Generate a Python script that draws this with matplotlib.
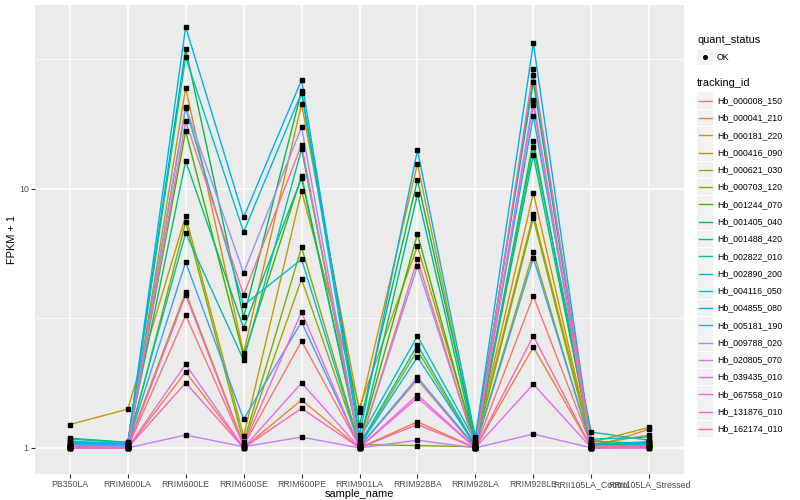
import numpy as np
import matplotlib
matplotlib.use("Agg")
import matplotlib.pyplot as plt
from matplotlib.lines import Line2D
from matplotlib.patches import Rectangle

plt.rcParams['font.family'] = ['Liberation Sans', 'DejaVu Sans']

samples = ["PB350LA", "RRIM600LA", "RRIM600LE", "RRIM600SE", "RRIM600PE",
           "RRIM901LA", "RRIM928BA", "RRIM928LA", "RRIM928LE",
           "RRII105LA_Control", "RRII105LA_Stressed"]

tracking_ids = ["Hb_000008_150", "Hb_000041_210", "Hb_000181_220", "Hb_000416_090",
                "Hb_000621_030", "Hb_000703_120", "Hb_001244_070", "Hb_001405_040",
                "Hb_001488_420", "Hb_002822_010", "Hb_002890_200", "Hb_004116_050",
                "Hb_004855_080", "Hb_005181_190", "Hb_009788_020", "Hb_020805_070",
                "Hb_039435_010", "Hb_067558_010", "Hb_131876_010", "Hb_162174_010"]

# FPKM + 1 per sample, in tracking_ids order
pb350la = [1.01, 1.0, 1.02, 1.23, 1.0, 1.01, 1.02, 1.03, 1.09, 1.08,
           1.06, 1.05, 1.04, 1.03, 1.02, 1.0, 1.0, 1.0, 1.0, 1.01]
rrim600la = [1.0, 1.0, 1.02, 1.41, 1.02, 1.01, 1.03, 1.04, 1.05, 1.05,
             1.04, 1.04, 1.03, 1.03, 1.01, 1.0, 1.0, 1.0, 1.0, 1.0]
rrim600le = [3.25, 1.96, 24.5, 7.85, 3.99, 7.44, 16.7, 34.6, 12.8, 6.75,
             32.2, 20.5, 42.1, 5.21, 20.7, 1.12, 2.10, 3.89, 1.78, 18.2]
rrim600se = [1.02, 1.0, 2.32, 1.11, 1.03, 1.05, 2.26, 3.19, 2.9, 2.18,
             6.8, 3.55, 7.76, 1.29, 4.73, 1.01, 1.0, 1.02, 1.0, 3.89]
rrim600pe = [2.58, 1.53, 21.2, 9.8, 4.48, 5.94, 11.2, 23.8, 11.0, 14.2,
             23.5, 5.34, 26.3, 3.06, 17.3, 1.10, 1.78, 3.34, 1.42, 14.8]
rrim901la = [1.01, 1.0, 1.38, 1.43, 1.02, 1.03, 1.05, 1.22, 1.04, 1.03,
             1.08, 1.02, 1.12, 1.01, 1.02, 1.0, 1.0, 1.0, 1.0, 1.01]
rrim928ba = [1.83, 1.26, 12.5, 6.01, 2.38, 1.02, 6.68, 10.8, 9.53, 2.49,
             2.70, 2.24, 14.1, 1.87, 5.03, 1.07, 1.56, 1.60, 1.23, 5.35]
rrim928la = [1.0, 1.0, 1.05, 1.04, 1.01, 1.01, 1.02, 1.08, 1.03, 1.02,
             1.06, 1.02, 1.1, 1.01, 1.01, 1.0, 1.0, 1.0, 1.0, 1.0]
rrim928le = [3.85, 2.45, 9.62, 7.97, 5.70, 7.70, 15.3, 25.8, 13.5, 14.5,
             19.1, 27.5, 36.5, 5.40, 22.0, 1.13, 1.76, 21.0, 2.70, 29.0]
rrii105_control = [1.02, 1.0, 1.03, 1.05, 1.0, 1.01, 1.02, 1.03, 1.06, 1.15,
                   1.08, 1.04, 1.03, 1.02, 1.0, 1.0, 1.0, 1.0, 1.0, 1.01]
rrii105_stressed = [1.06, 1.18, 1.12, 1.2, 1.02, 1.03, 1.04, 1.05, 1.04, 1.07,
                    1.1, 1.03, 1.05, 1.02, 1.01, 1.0, 1.0, 1.01, 1.0, 1.02]

colors = ["#F8766D", "#EA8331", "#D89000", "#C09B00", "#A3A500", "#7CAE00",
          "#39B600", "#00BB4E", "#00BF7D", "#00C1A3", "#00BFC4", "#00BAE0",
          "#00B0F6", "#35A2FF", "#9590FF", "#C77CFF", "#E76BF3", "#FA62DB",
          "#FF62BC", "#FF6C91"]

values = np.array([pb350la, rrim600la, rrim600le, rrim600se, rrim600pe, rrim901la,
                   rrim928ba, rrim928la, rrim928le, rrii105_control, rrii105_stressed]).T
x = np.arange(1, len(samples) + 1)

fig = plt.figure(figsize=(8, 5), dpi=100)
# panel spans 35..684 px horizontally, 5..474 px vertically
ax = fig.add_axes([0.04375, 0.052, 0.81125, 0.938])
ax.set_facecolor("#EBEBEB")

for i in range(len(tracking_ids)):
    ax.plot(x, values[i], color=colors[i], lw=1.0, zorder=3)
for i in range(len(tracking_ids)):
    ax.plot(x, values[i], ls="none", marker="s", ms=2.8, color="black", zorder=4)

ax.set_yscale("log")
ax.set_ylim(10 ** -0.101, 10 ** 1.709)
ax.set_xlim(0.4, len(samples) + 0.6)
ax.set_yticks([1, 10])
ax.set_yticklabels(["1", "10"])
ax.set_yticks([10 ** 0.5, 10 ** 1.5], minor=True)
ax.yaxis.set_minor_formatter(plt.NullFormatter())
ax.set_xticks(x)
ax.set_xticklabels(samples)

ax.grid(which="major", color="white", lw=1.1, zorder=0)
ax.grid(which="minor", axis="y", color="white", lw=0.55, zorder=0)
ax.set_axisbelow(True)
for s in ax.spines.values():
    s.set_visible(False)
ax.tick_params(which="major", length=3, width=0.8, color="#333333",
               labelsize=6.3, labelcolor="#4D4D4D", pad=1.5)
ax.tick_params(which="minor", length=0)

ax.set_xlabel("sample_name", fontsize=7.9, labelpad=0)
ax.set_ylabel("FPKM + 1", fontsize=7.9, labelpad=1)

# legends
def fx(px):
    return px / 800

def fy(py):
    return 1 - py / 500

fig.text(fx(697), fy(40), "quant_status", fontsize=7.9, va="center", ha="left")
fig.patches.append(Rectangle((fx(697), fy(65)), fx(16), 16 / 500, transform=fig.transFigure,
                             facecolor="#F2F2F2", edgecolor="none"))
fig.lines.append(Line2D([fx(705)], [fy(57)], transform=fig.transFigure, marker="o",
                        ms=2.6, color="black", ls="none"))
fig.text(fx(717), fy(57), "OK", fontsize=6.3, va="center", ha="left")

fig.text(fx(697), fy(83), "tracking_id", fontsize=7.9, va="center", ha="left")
for i, name in enumerate(tracking_ids):
    yc = 100.7 + i * 17.28
    fig.patches.append(Rectangle((fx(697), fy(yc + 8.3)), fx(16), 16.6 / 500,
                                 transform=fig.transFigure, facecolor="#F2F2F2",
                                 edgecolor="none"))
    fig.lines.append(Line2D([fx(698.5), fx(711.5)], [fy(yc), fy(yc)], transform=fig.transFigure,
                            color=colors[i], lw=1.0))
    fig.text(fx(717), fy(yc), name, fontsize=6.3, va="center", ha="left")

fig.savefig("out.png", dpi=100)
